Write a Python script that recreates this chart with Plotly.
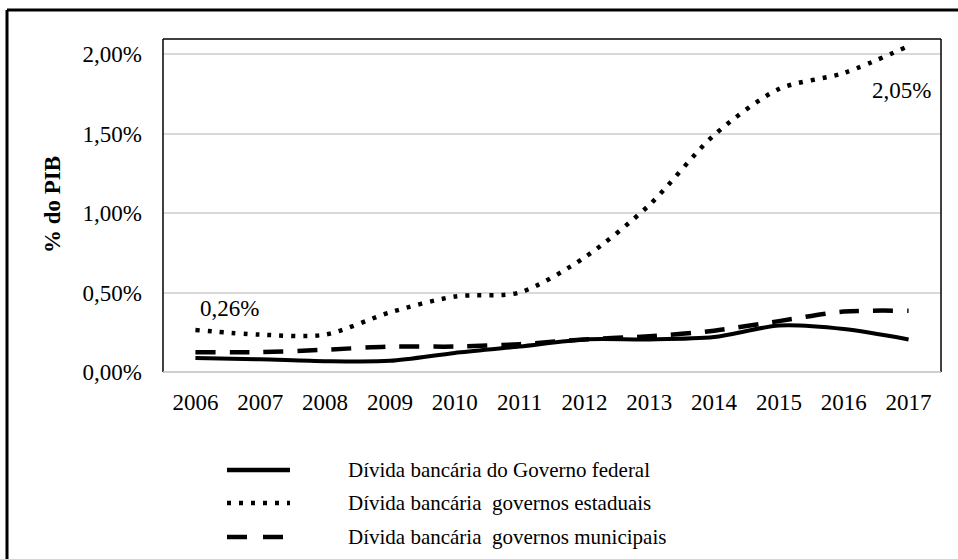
import plotly.graph_objects as go

years = ["2006", "2007", "2008", "2009", "2010", "2011", "2012", "2013", "2014", "2015", "2016", "2017"]
federal = [0.088, 0.080, 0.068, 0.070, 0.120, 0.160, 0.205, 0.205, 0.220, 0.292, 0.270, 0.205]
estaduais = [0.264, 0.235, 0.235, 0.375, 0.475, 0.500, 0.720, 1.050, 1.490, 1.780, 1.880, 2.050]
municipais = [0.125, 0.125, 0.140, 0.160, 0.160, 0.175, 0.205, 0.225, 0.260, 0.320, 0.380, 0.385]
y_ticks = [0, 0.5, 1.0, 1.5, 2.0]
y_tick_labels = ["0,00%", "0,50%", "1,00%", "1,50%", "2,00%"]
names = ["Dívida bancária do Governo federal",
         "Dívida bancária  governos estaduais",
         "Dívida bancária  governos municipais"]

FONT = "Liberation Serif"
W, H = 958, 559
L, R, T, B = 163, 941, 39, 372

def px(x):
    return (x - L) / (R - L)

def py(y):
    return (B - y) / (B - T)

fig = go.Figure()
fig.add_trace(go.Scatter(x=years, y=estaduais, mode="lines", name=names[1],
                         line=dict(color="black", width=4.5, dash="4px,8px", shape="spline", smoothing=0.8)))
fig.add_trace(go.Scatter(x=years, y=municipais, mode="lines", name=names[2],
                         line=dict(color="black", width=4.5, dash="20px,14px", shape="spline", smoothing=0.8)))
fig.add_trace(go.Scatter(x=years, y=federal, mode="lines", name=names[0],
                         line=dict(color="black", width=4, shape="spline", smoothing=0.8)))

shapes = []
# plot area border (left, top, right black; bottom grey)
shapes.append(dict(type="line", xref="paper", yref="paper", x0=0, x1=0, y0=0, y1=1, line=dict(color="black", width=1.5)))
shapes.append(dict(type="line", xref="paper", yref="paper", x0=0, x1=1, y0=1, y1=1, line=dict(color="black", width=1.5)))
shapes.append(dict(type="line", xref="paper", yref="paper", x0=1, x1=1, y0=0, y1=1, line=dict(color="black", width=1.5)))
shapes.append(dict(type="line", xref="paper", yref="paper", x0=0, x1=1, y0=0, y1=0, line=dict(color="#bfbfbf", width=1.5)))
# outer frame
shapes.append(dict(type="line", xref="paper", yref="paper", x0=px(7), x1=px(W + 5), y0=py(10), y1=py(10), line=dict(color="black", width=3)))
shapes.append(dict(type="line", xref="paper", yref="paper", x0=px(7), x1=px(7), y0=py(10), y1=py(H + 5), line=dict(color="black", width=3)))

# legend samples
leg_y = [470, 503, 537]
leg_dash = ["solid", "4px,8px", "20px,16px"]
for yy, dsh in zip(leg_y, leg_dash):
    shapes.append(dict(type="line", xref="paper", yref="paper", x0=px(227), x1=px(290), y0=py(yy), y1=py(yy),
                       line=dict(color="black", width=4.5, dash=dsh)))

annotations = []
for yy, nm in zip(leg_y, names):
    annotations.append(dict(xref="paper", yref="paper", x=px(346), y=py(yy), text=nm, showarrow=False,
                            xanchor="left", yanchor="middle", font=dict(family=FONT, size=21, color="black")))
annotations.append(dict(xref="paper", yref="paper", x=px(229), y=py(308), text="0,26%", showarrow=False,
                        xanchor="center", yanchor="middle", font=dict(family=FONT, size=23, color="black")))
annotations.append(dict(xref="paper", yref="paper", x=px(901), y=py(90), text="2,05%", showarrow=False,
                        xanchor="center", yanchor="middle", font=dict(family=FONT, size=23, color="black")))
annotations.append(dict(xref="paper", yref="paper", x=px(52), y=py(205), text="<b>% do PIB</b>", showarrow=False,
                        textangle=-90, xanchor="center", yanchor="middle", font=dict(family=FONT, size=23, color="black")))

fig.update_layout(
    width=W, height=H,
    margin=dict(l=L, r=W - R, t=T, b=H - B),
    paper_bgcolor="white", plot_bgcolor="white",
    showlegend=False,
    font=dict(family=FONT, size=23, color="black"),
    xaxis=dict(type="category", range=[-0.5, 11.5], showgrid=False, showline=False, ticks="",
               tickfont=dict(family=FONT, size=23, color="black"), ticklabelstandoff=14),
    yaxis=dict(range=[0, (B - T) / 159.0], tickvals=y_ticks, ticktext=y_tick_labels,
               showgrid=True, gridcolor="#d9d9d9", gridwidth=1.5, zeroline=False, showline=False, ticks="",
               tickfont=dict(family=FONT, size=23, color="black"), ticklabelstandoff=20),
    shapes=shapes,
    annotations=annotations,
)

fig.write_html("out.html")
